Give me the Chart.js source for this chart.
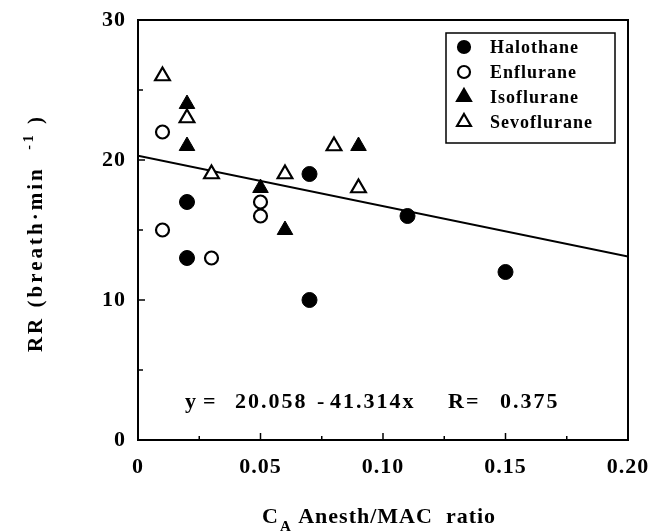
<!DOCTYPE html>
<html>
<head>
<meta charset="utf-8">
<script src="https://cdn.jsdelivr.net/npm/chart.js@4/dist/chart.umd.min.js"></script>
<style>
  html, body { margin: 0; padding: 0; background: #fff; }
  #wrap { width: 656px; height: 532px; }
</style>
</head>
<body>
<div id="wrap"><canvas id="myChart" width="656" height="532"></canvas></div>
<script>
// data
const halothaneX = [0.02, 0.02, 0.07, 0.07, 0.11, 0.15];
const halothaneY = [17, 13, 19, 10, 16, 12];
const enfluraneX = [0.01, 0.01, 0.03, 0.05, 0.05];
const enfluraneY = [22, 15, 13, 17, 16];
const isofluraneX = [0.02, 0.02, 0.05, 0.06, 0.09];
const isofluraneY = [24, 21, 18, 15, 21];
const sevofluraneX = [0.01, 0.02, 0.03, 0.06, 0.08, 0.09];
const sevofluraneY = [26, 23, 19, 19, 21, 18];
// regression line as drawn in the figure
const fitX = [0, 0.2];
const fitY = [20.3, 13.1];

const xMinorTicks = [0.025, 0.05, 0.075, 0.1, 0.125, 0.15, 0.175];
const yMinorTicks = [5, 10, 15, 20, 25];

const SERIF = "'Liberation Serif', 'Times New Roman', serif";

function pts(xs, ys) {
    return xs.map((x, i) => ({ x: x, y: ys[i] }));
}

function marker(ctx, style, filled, r, x, y) {
    ctx.save();
    ctx.beginPath();
    if (style === 'circle') {
        ctx.arc(x, y, r, 0, Math.PI * 2);
    } else {
        ctx.moveTo(x, y - r);
        ctx.lineTo(x + r * Math.sin(Math.PI * 2 / 3), y - r * Math.cos(Math.PI * 2 / 3));
        ctx.lineTo(x + r * Math.sin(Math.PI * 4 / 3), y - r * Math.cos(Math.PI * 4 / 3));
        ctx.closePath();
    }
    ctx.fillStyle = filled ? '#000' : '#fff';
    ctx.fill();
    ctx.lineWidth = 2.2;
    ctx.strokeStyle = '#000';
    ctx.stroke();
    ctx.restore();
}

const decorations = {
    id: 'decorations',
    beforeDraw(chart) {
        chart.ctx.letterSpacing = '1px';
    },
    afterDraw(chart) {
        const ctx = chart.ctx;
        const a = chart.chartArea;
        const xs = chart.scales.x, ys = chart.scales.y;
        ctx.save();
        ctx.strokeStyle = '#000';
        ctx.lineWidth = 2;
        ctx.strokeRect(a.left, a.top, a.right - a.left, a.bottom - a.top);

        // inward ticks
        ctx.lineWidth = 1.5;
        xMinorTicks.forEach(v => {
            const px = xs.getPixelForValue(v);
            const len = Math.abs(v / 0.05 - Math.round(v / 0.05)) < 1e-6 ? 7 : 4;
            ctx.beginPath(); ctx.moveTo(px, a.bottom); ctx.lineTo(px, a.bottom - len); ctx.stroke();
        });
        yMinorTicks.forEach(v => {
            const py = ys.getPixelForValue(v);
            const len = v % 10 === 0 ? 7 : 5;
            ctx.beginPath(); ctx.moveTo(a.left, py); ctx.lineTo(a.left + len, py); ctx.stroke();
        });

        // legend box
        const bx = a.right - 182, by = a.top + 13, bw = 169, bh = 110;
        ctx.lineWidth = 1.5;
        ctx.strokeRect(bx, by, bw, bh);
        ctx.fillStyle = '#000';
        ctx.font = 'bold 18px ' + SERIF;
        ctx.letterSpacing = '1px';
        ctx.textBaseline = 'middle';
        ctx.textAlign = 'left';
        chart.data.datasets.forEach((ds, i) => {
            if (ds.hideInLegend) return;
            const ry = by + 14 + i * 25;
            marker(ctx, ds.pointStyle, ds.pointBackgroundColor === '#000', ds.pointStyle === 'circle' ? 6 : 8, bx + 18, ry);
            ctx.fillStyle = '#000';
            ctx.fillText(ds.label, bx + 44, ry + 1);
        });

        // regression text
        ctx.font = 'bold 22px ' + SERIF;
        ctx.letterSpacing = '2px';
        ctx.textBaseline = 'alphabetic';
        ctx.fillText('y', 185, 408);
        ctx.fillText('=', 203, 408);
        ctx.fillText('20.058', 235, 408);
        ctx.fillText('-', 317, 408);
        ctx.fillText('41.314x', 330, 408);
        ctx.fillText('R=', 448, 408);
        ctx.fillText('0.375', 500, 408);

        // x axis title
        ctx.letterSpacing = '1px';
        let x = 262;
        ctx.font = 'bold 22px ' + SERIF;
        ctx.fillText('C', x, 523);
        x += ctx.measureText('C').width;
        ctx.font = 'bold 15px ' + SERIF;
        ctx.fillText('A', x + 1, 531);
        x += ctx.measureText('A').width + 1;
        ctx.font = 'bold 22px ' + SERIF;
        ctx.fillText(' Anesth/MAC  ratio', x, 523);

        // y axis title (rotated)
        ctx.translate(42, 233);
        ctx.rotate(-Math.PI / 2);
        ctx.letterSpacing = '3px';
        ctx.font = 'bold 21px ' + SERIF;
        const t1 = 'RR (breath\u00b7min  ', t3 = ' )';
        const w1 = ctx.measureText(t1).width, w3 = ctx.measureText(t3).width;
        ctx.font = 'bold 14px ' + SERIF;
        const t2 = '-1', w2 = ctx.measureText(t2).width;
        let s = -(w1 + w2 + w3) / 2;
        ctx.font = 'bold 21px ' + SERIF;
        ctx.fillText(t1, s, 0);
        ctx.font = 'bold 14px ' + SERIF;
        ctx.fillText(t2, s + w1, -9);
        ctx.font = 'bold 21px ' + SERIF;
        ctx.fillText(t3, s + w1 + w2, 0);
        ctx.restore();
    }
};

const ctx = document.getElementById('myChart').getContext('2d');
const myChart = new Chart(ctx, {
    type: 'scatter',
    data: {
        datasets: [
            { label: 'Halothane', data: pts(halothaneX, halothaneY), pointStyle: 'circle', pointRadius: 7.5,
              pointBackgroundColor: '#000', pointBorderColor: '#000', pointBorderWidth: 1 },
            { label: 'Enflurane', data: pts(enfluraneX, enfluraneY), pointStyle: 'circle', pointRadius: 6.5,
              pointBackgroundColor: '#fff', pointBorderColor: '#000', pointBorderWidth: 2.2 },
            { label: 'Isoflurane', data: pts(isofluraneX, isofluraneY), pointStyle: 'triangle', pointRadius: 9,
              pointBackgroundColor: '#000', pointBorderColor: '#000', pointBorderWidth: 1 },
            { label: 'Sevoflurane', data: pts(sevofluraneX, sevofluraneY), pointStyle: 'triangle', pointRadius: 8.5,
              pointBackgroundColor: '#fff', pointBorderColor: '#000', pointBorderWidth: 2.2 },
            { label: 'fit', hideInLegend: true, data: pts(fitX, fitY), showLine: true, pointRadius: 0,
              borderColor: '#000', borderWidth: 2, fill: false }
        ]
    },
    options: {
        responsive: false,
        animation: false,
        devicePixelRatio: 1,
        layout: { padding: { top: 20, right: 28, left: 0, bottom: 0 } },
        plugins: {
            legend: { display: false },
            tooltip: { enabled: false }
        },
        scales: {
            x: {
                type: 'linear', min: 0, max: 0.2,
                grid: { display: false },
                border: { display: true, color: '#000', width: 2 },
                ticks: {
                    stepSize: 0.05, color: '#000', padding: 6, maxRotation: 0, autoSkip: false,
                    font: { family: SERIF, weight: 'bold', size: 22 },
                    callback: v => v === 0 ? '0' : v.toFixed(2)
                },
                afterFit: s => { s.height = 92; }
            },
            y: {
                type: 'linear', min: 0, max: 30,
                grid: { display: false },
                border: { display: true, color: '#000', width: 2 },
                ticks: {
                    stepSize: 10, color: '#000', padding: 4,
                    font: { family: SERIF, weight: 'bold', size: 22 }
                },
                afterFit: s => { s.width = 138; }
            }
        }
    },
    plugins: [decorations]
});
</script>
</body>
</html>
